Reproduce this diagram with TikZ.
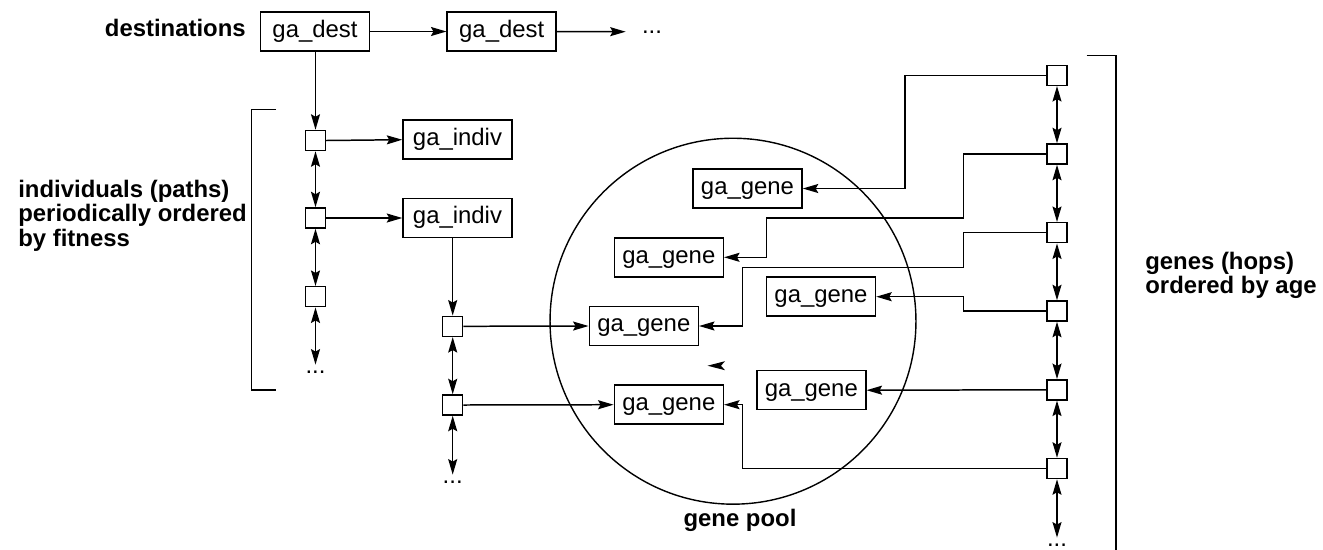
\documentclass[tikz,border=0pt]{standalone}
\usepackage{fontspec}
\setmainfont{Liberation Sans}
\usetikzlibrary{arrows.meta,calc}
\newcommand\fsz{\fontsize{13.6pt}{14pt}\selectfont}
\tikzset{
  x=0.02cm, y=0.02cm,
  boxn/.style={draw, line width=0.85pt, minimum width=2.18cm, minimum height=0.78cm, inner sep=0pt, font=\fsz, text height=9.6pt, text depth=2.8pt},
  sqn/.style={draw, line width=0.85pt, minimum size=0.4cm, inner sep=0pt},
  dotsn/.style={inner xsep=0.24cm, inner ysep=0.12cm, font=\fsz},
  lbl/.style={inner sep=0pt, font=\fsz\bfseries},
  conn/.style={line width=0.85pt},
  tip/.style={Stealth[length=0.31cm, width=0.18cm, inset=0.05cm]},
  arr/.style={conn, -{Stealth[length=0.31cm, width=0.18cm, inset=0.05cm]}},
  darr/.style={conn, {Stealth[length=0.31cm, width=0.18cm, inset=0.05cm]}-{Stealth[length=0.31cm, width=0.18cm, inset=0.05cm]}},
}
\begin{document}
\begin{tikzpicture}
\useasboundingbox (0,0) rectangle (1323,-549);
% destinations
\node[boxn] (d1) at (315,-31.5) {ga\_dest};
\node[boxn] (d2) at (501.7,-31.5) {ga\_dest};
\node[dotsn, anchor=base] (dd) at (652,-33) {...};
\node[lbl, anchor=base east] (ldest) at (246,-36) {destinations};
\draw[arr] (d1.east) -- (d2.west);
\draw[arr, shorten >=0.08cm] (d2.east) -- (dd.west);
% left column
\node[sqn] (l1) at (315.5,-140.5) {};
\node[sqn] (l2) at (315.5,-218) {};
\node[sqn] (l3) at (315.5,-296.7) {};
\node[dotsn, anchor=base] (ld) at (315.5,-373.5) {...};
\node[boxn] (i1) at (457.5,-139.7) {ga\_indiv};
\node[boxn] (i2) at (457.5,-218) {ga\_indiv};
\draw[arr] (d1.south -| l1) -- (l1.north);
\draw[darr] (l1.south) -- (l2.north);
\draw[darr] (l2.south) -- (l3.north);
\draw[darr] (l3.south) -- (ld.north);
\draw[arr] (l1.east) -- (i1.west);
\draw[arr] (l2.east) -- (i2.west);
\coordinate (lbt) at (276,-109.3);
\coordinate (lbb) at (276,-390);
\draw[conn] (lbt) -- ++(-24.3,0) |- (lbb);
\node[lbl, anchor=north west, align=left, font=\fontsize{13.6pt}{13.9pt}\selectfont\bfseries] (lleft) at (18,-179.5) {individuals (paths)\\periodically ordered\\by fitness};
% middle column
\node[sqn] (m1) at (452.7,-326.3) {};
\node[sqn] (m2) at (452.7,-405) {};
\node[dotsn, anchor=base] (md) at (452.7,-483.5) {...};
\draw[arr] (i2.south -| m1) -- (m1.north);
\draw[darr] (m1.south) -- (m2.north);
\draw[darr] (m2.south) -- (md.north);
% gene pool
\node[draw, circle, line width=0.8pt, minimum size=7.32cm, inner sep=0pt] (pool) at (733,-321.2) {};
\node[lbl, anchor=base] (lpool) at (740,-526) {gene pool};
\node[boxn] (gA) at (643.8,-326) {ga\_gene};
\node[boxn] (gB) at (668.8,-404.7) {ga\_gene};
\node[boxn] (gC) at (668.8,-257.3) {ga\_gene};
\node[boxn] (gD) at (747.5,-188.5) {ga\_gene};
\node[boxn] (gE) at (821,-296.7) {ga\_gene};
\node[boxn] (gF) at (811.3,-390.2) {ga\_gene};
\draw[arr] (m1.east) -- (gA.west);
\draw[arr] (m2.east) -- (gB.west);
% stray arrowhead
\fill (707.5,-365.7) -- (725,-361.2) -- (721,-365.7) -- (725,-370.2) -- cycle;
% right column
\node[sqn] (r1) at (1057,-75.3) {};
\node[sqn] (r2) at (1057,-154) {};
\node[sqn] (r3) at (1057,-232.7) {};
\node[sqn] (r4) at (1057,-311) {};
\node[sqn] (r5) at (1057,-389.8) {};
\node[sqn] (r6) at (1057,-468.5) {};
\node[dotsn, anchor=base] (rd) at (1057,-546.5) {...};
\draw[darr] (r1.south) -- (r2.north);
\draw[darr] (r2.south) -- (r3.north);
\draw[darr] (r3.south) -- (r4.north);
\draw[darr] (r4.south) -- (r5.north);
\draw[darr] (r5.south) -- (r6.north);
\draw[darr] (r6.south) -- (rd.north);
\coordinate (rbt) at (1086.7,-55.7);
\coordinate (rbb) at (1116,-551);
\draw[conn] (rbt) -| (rbb);
\node[lbl, anchor=north west, align=left, font=\fontsize{13.6pt}{11.4pt}\selectfont\bfseries] (lright) at (1145,-252) {genes (hops)\\ordered by age};
% gene connectors
\draw[arr] (r1.west) -| (905,-188.5) -- (gD.east);
\draw[arr] (r2.west) -| (963.7,-218) -| (766.7,-257.3) -- (gC.east);
\draw[arr] (r3.west) -| (963.7,-267.3) -| (742.3,-326) -- (gA.east);
\draw[arr] (r4.west) -| (963.7,-296.7) -- (gE.east);
\draw[arr] (r5.west) -- (gF.east);
\draw[arr] (r6.west) -| (742.3,-404.7) -- (gB.east);
\end{tikzpicture}
\end{document}
